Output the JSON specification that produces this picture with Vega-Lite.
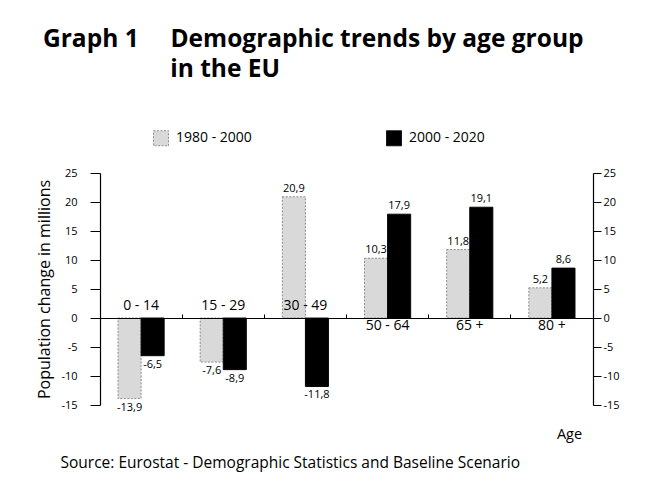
{
  "$schema": "https://vega.github.io/schema/vega-lite/v6.json",
  "width": 493,
  "height": 232,
  "autosize": {"type": "none"},
  "padding": {"left": 100, "top": 173, "right": 52, "bottom": 91},
  "background": "white",
  "config": {
    "font": "Open Sans",
    "view": {"stroke": null},
    "locale": {"number": {"decimal": ",", "thousands": ".", "grouping": [3], "currency": ["", " €"], "minus": "-"}},
    "axis": {"grid": false, "domainColor": "black", "tickColor": "black", "labelColor": "black", "titleColor": "black"}
  },
  "title": {
    "text": ["Graph 1\u00a0\u00a0\u00a0\u00a0\u00a0Demographic trends by age group", "\u200b\u00a0\u00a0\u00a0\u00a0\u00a0\u00a0\u00a0\u00a0\u00a0\u00a0\u00a0\u00a0\u00a0\u00a0\u00a0\u00a0\u00a0\u00a0\u00a0\u00a0in the EU"],
    "anchor": "start",
    "frame": "group",
    "dx": -57,
    "fontSize": 24.5,
    "fontWeight": "bold",
    "font": "Open Sans",
    "lineHeight": 30,
    "offset": 48,
    "color": "black"
  },
  "datasets": {
    "pop": [
      {"age": "0 - 14", "period": "1980 - 2000", "value": -13.9},
      {"age": "0 - 14", "period": "2000 - 2020", "value": -6.5},
      {"age": "15 - 29", "period": "1980 - 2000", "value": -7.6},
      {"age": "15 - 29", "period": "2000 - 2020", "value": -8.9},
      {"age": "30 - 49", "period": "1980 - 2000", "value": 20.9},
      {"age": "30 - 49", "period": "2000 - 2020", "value": -11.8},
      {"age": "50 - 64", "period": "1980 - 2000", "value": 10.3},
      {"age": "50 - 64", "period": "2000 - 2020", "value": 17.9},
      {"age": "65 +", "period": "1980 - 2000", "value": 11.8},
      {"age": "65 +", "period": "2000 - 2020", "value": 19.1},
      {"age": "80 +", "period": "1980 - 2000", "value": 5.2},
      {"age": "80 +", "period": "2000 - 2020", "value": 8.6}
    ]
  },
  "layer": [
    {
      "data": {"name": "pop"},
      "mark": {"type": "bar", "strokeWidth": 1},
      "encoding": {
        "x": {
          "field": "age", "type": "nominal", "sort": null,
          "scale": {"paddingInner": 0, "paddingOuter": 0},
          "axis": {
            "orient": "bottom", "offset": -87, "labels": false, "domain": true, "domainWidth": 1.2,
            "ticks": true, "tickSize": -4, "bandPosition": 0, "zindex": 1,
            "title": "Age", "titleX": 469, "titleY": 120, "titleAlign": "center", "titleBaseline": "alphabetic",
            "titleFontSize": 14.5, "titleFontWeight": "normal"
          }
        },
        "xOffset": {"field": "period", "type": "nominal", "scale": {"paddingInner": 0, "paddingOuter": 0.78}},
        "y": {
          "field": "value", "type": "quantitative",
          "scale": {"domain": [-15, 25], "nice": false, "zero": false},
          "axis": {
            "orient": "left", "values": [-15, -10, -5, 0, 5, 10, 15, 20, 25], "format": "d",
            "tickSize": 10, "labelPadding": 13, "labelFontSize": 11, "domainWidth": 1.2,
            "title": "Population change in millions", "titleFontSize": 16, "titleFontWeight": "normal", "titlePadding": 8
          }
        },
        "fill": {
          "field": "period", "type": "nominal",
          "scale": {"domain": ["1980 - 2000", "2000 - 2020"], "range": ["#d9d9d9", "#000000"]},
          "legend": {
            "orient": "none", "legendX": 53, "legendY": -43, "direction": "horizontal", "title": null,
            "symbolType": "square", "symbolSize": 225, "labelFontSize": 14, "columnPadding": 132, "labelOffset": 7,
            "symbolStrokeWidth": 1, "labelColor": "black"
          }
        },
        "stroke": {
          "field": "period", "type": "nominal",
          "scale": {"domain": ["1980 - 2000", "2000 - 2020"], "range": ["#8c8c8c", "#000000"]},
          "legend": {
            "orient": "none", "legendX": 53, "legendY": -43, "direction": "horizontal", "title": null,
            "symbolType": "square", "symbolSize": 225, "labelFontSize": 14, "columnPadding": 132, "labelOffset": 7,
            "symbolStrokeWidth": 1, "labelColor": "black"
          }
        },
        "strokeDash": {
          "field": "period", "type": "nominal",
          "scale": {"domain": ["1980 - 2000", "2000 - 2020"], "range": [[2, 1.5], [1, 0]]},
          "legend": {
            "orient": "none", "legendX": 53, "legendY": -43, "direction": "horizontal", "title": null,
            "symbolType": "square", "symbolSize": 225, "labelFontSize": 14, "columnPadding": 132, "labelOffset": 7,
            "symbolStrokeWidth": 1, "labelColor": "black"
          }
        }
      }
    },
    {
      "data": {"name": "pop"},
      "transform": [{"filter": "datum.value >= 0"}],
      "mark": {"type": "text", "baseline": "bottom", "dy": -3, "fontSize": 11, "color": "black"},
      "encoding": {
        "x": {"field": "age", "type": "nominal", "sort": null, "axis": null},
        "xOffset": {"field": "period", "type": "nominal"},
        "y": {"field": "value", "type": "quantitative", "axis": null},
        "text": {"field": "value", "type": "quantitative", "format": ".1f"}
      }
    },
    {
      "data": {"name": "pop"},
      "transform": [{"filter": "datum.value < 0"}],
      "mark": {"type": "text", "baseline": "top", "dy": 3, "fontSize": 11, "color": "black"},
      "encoding": {
        "x": {"field": "age", "type": "nominal", "sort": null, "axis": null},
        "xOffset": {"field": "period", "type": "nominal"},
        "y": {"field": "value", "type": "quantitative", "axis": null},
        "text": {"field": "value", "type": "quantitative", "format": ".1f"}
      }
    },
    {
      "data": {"name": "pop"},
      "transform": [
        {"filter": "datum.period === '1980 - 2000'"},
        {"filter": {"field": "age", "oneOf": ["0 - 14", "15 - 29", "30 - 49"]}}
      ],
      "mark": {"type": "text", "baseline": "alphabetic", "dy": -8, "fontSize": 14, "color": "black"},
      "encoding": {
        "x": {
          "field": "age", "type": "nominal", "sort": null,
          "axis": {
            "orient": "bottom", "domain": false, "ticks": false, "labels": false,
            "title": "Source: Eurostat - Demographic Statistics and Baseline Scenario",
            "titleX": -40, "titleY": 62, "titleAlign": "left", "titleAnchor": null, "titleBaseline": "alphabetic",
            "titleFontSize": 15.5, "titleFontWeight": "normal"
          }
        },
        "y": {
          "datum": 0, "type": "quantitative",
          "axis": {
            "orient": "right", "values": [-15, -10, -5, 0, 5, 10, 15, 20, 25], "format": "d",
            "tickSize": 8, "labelPadding": 2, "labelFontSize": 11, "domainWidth": 1.2, "title": null
          }
        },
        "text": {"field": "age", "type": "nominal"}
      }
    },
    {
      "data": {"name": "pop"},
      "transform": [
        {"filter": "datum.period === '1980 - 2000'"},
        {"filter": {"field": "age", "oneOf": ["50 - 64", "65 +", "80 +"]}}
      ],
      "mark": {"type": "text", "baseline": "top", "dy": 1, "fontSize": 14, "color": "black"},
      "encoding": {
        "x": {"field": "age", "type": "nominal", "sort": null, "axis": null},
        "y": {"datum": 0, "type": "quantitative", "axis": null},
        "text": {"field": "age", "type": "nominal"}
      }
    }
  ],
  "resolve": {"axis": {"x": "independent", "y": "independent"}}
}
